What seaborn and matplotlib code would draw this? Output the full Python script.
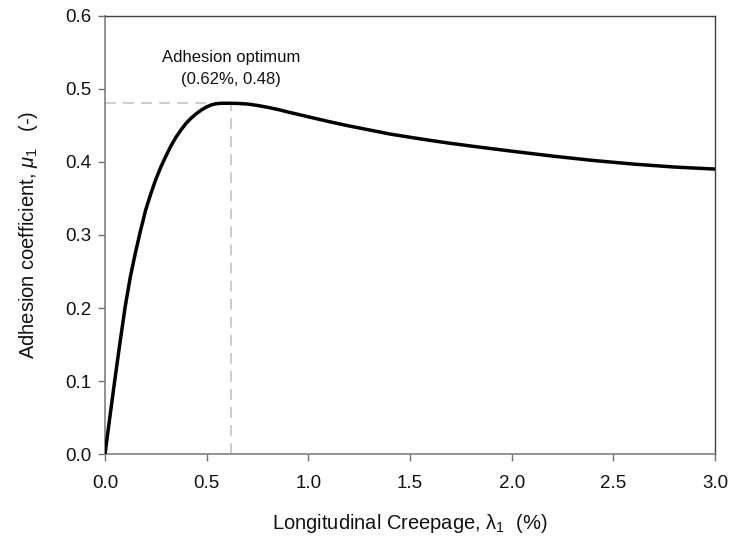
import matplotlib
matplotlib.use("Agg")
import matplotlib.pyplot as plt
import seaborn as sns
import pandas as pd

# Data
creepage = [0, 0.025, 0.05, 0.075, 0.1, 0.125, 0.15, 0.175, 0.2, 0.225, 0.25, 0.275,
            0.3, 0.325, 0.35, 0.375, 0.4, 0.425, 0.45, 0.475, 0.5, 0.525, 0.55, 0.575,
            0.62, 0.65, 0.7, 0.75, 0.8, 0.85, 0.9, 0.95, 1.0, 1.1, 1.2, 1.3, 1.4, 1.5,
            1.6, 1.7, 1.8, 1.9, 2.0, 2.2, 2.4, 2.6, 2.8, 3.0]
adhesion = [0, 0.053, 0.105, 0.155, 0.203, 0.243, 0.276, 0.306, 0.334, 0.356, 0.376, 0.393,
            0.408, 0.422, 0.434, 0.444, 0.453, 0.460, 0.466, 0.471, 0.475, 0.478, 0.4795, 0.480,
            0.480, 0.4798, 0.479, 0.477, 0.4745, 0.4715, 0.468, 0.4648, 0.4615, 0.455, 0.449, 0.4435, 0.438, 0.4335,
            0.4292, 0.4252, 0.4215, 0.418, 0.4145, 0.4078, 0.4018, 0.3968, 0.3928, 0.390]
opt_x = 0.62
opt_y = 0.48
x_ticks = [0.0, 0.5, 1.0, 1.5, 2.0, 2.5, 3.0]
y_ticks = [0.0, 0.1, 0.2, 0.3, 0.4, 0.5, 0.6]

sns.set_theme(style="ticks")
plt.rcParams["font.family"] = ["Liberation Sans", "DejaVu Sans"]
plt.rcParams["mathtext.fontset"] = "custom"
plt.rcParams["mathtext.rm"] = "Liberation Sans"
plt.rcParams["mathtext.it"] = "Liberation Sans:italic"

df = pd.DataFrame({"x": creepage, "y": adhesion})

fig = plt.figure(figsize=(7.3, 5.42), dpi=100)
ax = fig.add_axes([0.1438, 0.1618, 0.8357, 0.8096])

# guide lines
ax.plot([0, opt_x], [opt_y, opt_y], color="#c8c8c8", lw=1.3, ls=(0, (6, 4)), zorder=1)
ax.plot([opt_x, opt_x], [0, opt_y], color="#c8c8c8", lw=1.3, ls=(0, (6, 4)), zorder=1)

sns.lineplot(data=df, x="x", y="y", ax=ax, color="black", lw=2.5, zorder=3,
             solid_joinstyle="round", solid_capstyle="round")

ax.set_xlim(0, 3.0)
ax.set_ylim(0, 0.6)
ax.set_xticks(x_ticks)
ax.set_yticks(y_ticks)
ax.set_xticklabels([f"{v:.1f}" for v in x_ticks])
ax.set_yticklabels([f"{v:.1f}" for v in y_ticks])
ax.tick_params(axis="both", labelsize=13.5, length=5, width=1, color="#707070",
               direction="out", labelcolor="#111111")
ax.tick_params(axis="x", pad=10)
ax.tick_params(axis="y", pad=5)

for side in ["left", "bottom"]:
    ax.spines[side].set_color("#808080")
    ax.spines[side].set_linewidth(1.2)
for side in ["top", "right"]:
    ax.spines[side].set_visible(True)
    ax.spines[side].set_color("#404040")
    ax.spines[side].set_linewidth(1.0)

ax.set_xlabel(r"Longitudinal Creepage, λ$_{\mathit{1}}$  (%)", fontsize=14.5, labelpad=14,
              color="#111111")
ax.set_ylabel(r"Adhesion coefficient, $\mathit{μ}_{\mathit{1}}$   (-)", fontsize=14.5, labelpad=18,
              color="#111111")

ax.text(opt_x, 0.543, "Adhesion optimum", ha="center", va="center", fontsize=12, color="#111111")
ax.text(opt_x, 0.512, f"({opt_x:.2f}%, {opt_y:.2f})", ha="center", va="center", fontsize=12,
        color="#111111")

fig.savefig("out.png", dpi=100)
